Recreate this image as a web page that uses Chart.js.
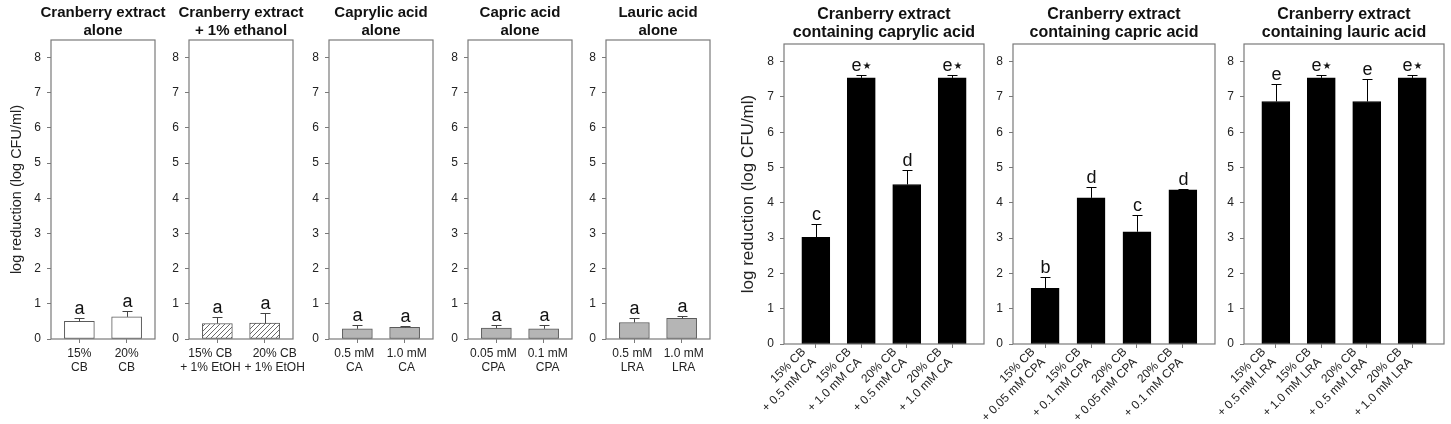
<!DOCTYPE html>
<html>
<head>
<meta charset="utf-8">
<script src="https://cdn.jsdelivr.net/npm/chart.js@4.4.0/dist/chart.umd.min.js"></script>
<style>
  body { margin: 0; background: #fff; width: 1451px; height: 424px; position: relative; overflow: hidden; }
  .panel { position: absolute; top: 0; }
</style>
</head>
<body>
<script>
// ---- data ----
var yTicks = [0, 1, 2, 3, 4, 5, 6, 7, 8];
var yTitle = "log reduction (log CFU/ml)";

var leftTitles = [["Cranberry extract", "alone"], ["Cranberry extract", "+ 1% ethanol"],
                  ["Caprylic acid", "alone"], ["Capric acid", "alone"], ["Lauric acid", "alone"]];
var leftLabels = [
  [["15%", "CB"], ["20%", "CB"]],
  [["15% CB", "+ 1% EtOH"], ["20% CB", "+ 1% EtOH"]],
  [["0.5 mM", "CA"], ["1.0 mM", "CA"]],
  [["0.05 mM", "CPA"], ["0.1 mM", "CPA"]],
  [["0.5 mM", "LRA"], ["1.0 mM", "LRA"]]
];
var leftValues = [[0.50, 0.63], [0.44, 0.45], [0.29, 0.33], [0.31, 0.29], [0.47, 0.59]];
var leftErrors = [[0.11, 0.16], [0.19, 0.30], [0.10, 0.03], [0.10, 0.11], [0.12, 0.05]];
var leftLetters = [["a", "a"], ["a", "a"], ["a", "a"], ["a", "a"], ["a", "a"]];

var rightTitles = [["Cranberry extract", "containing caprylic acid"],
                   ["Cranberry extract", "containing capric acid"],
                   ["Cranberry extract", "containing lauric acid"]];
var rightLabels = [
  [["15% CB", "+ 0.5 mM CA"], ["15% CB", "+ 1.0 mM CA"], ["20% CB", "+ 0.5 mM CA"], ["20% CB", "+ 1.0 mM CA"]],
  [["15% CB", "+ 0.05 mM CPA"], ["15% CB", "+ 0.1 mM CPA"], ["20% CB", "+ 0.05 mM CPA"], ["20% CB", "+ 0.1 mM CPA"]],
  [["15% CB", "+ 0.5 mM LRA"], ["15% CB", "+ 1.0 mM LRA"], ["20% CB", "+ 0.5 mM LRA"], ["20% CB", "+ 1.0 mM LRA"]]
];
var rightValues = [[3.02, 7.54, 4.52, 7.54], [1.58, 4.14, 3.18, 4.37], [6.87, 7.54, 6.87, 7.54]];
var rightErrors = [[0.38, 0.08, 0.42, 0.08], [0.32, 0.32, 0.47, 0.03], [0.50, 0.08, 0.65, 0.08]];
var rightLetters = [["c", "e★", "d", "e★"], ["b", "d", "c", "d"], ["e", "e★", "e", "e★"]];

// ---- look ----
var fam = "'Liberation Sans', Arial, Helvetica, sans-serif";

function hatch() {
  var c = document.createElement("canvas");
  c.width = 5; c.height = 5;
  var g = c.getContext("2d");
  g.fillStyle = "#fff"; g.fillRect(0, 0, 5, 5);
  g.strokeStyle = "#6a6a6a"; g.lineWidth = 1;
  g.beginPath();
  g.moveTo(0, 5); g.lineTo(5, 0);
  g.moveTo(-1, 1); g.lineTo(1, -1);
  g.moveTo(4, 6); g.lineTo(6, 4);
  g.stroke();
  return g.createPattern(c, "repeat");
}

var boxPlugin = {
  id: "box",
  beforeDraw: function(chart, args, opts) {
    // nudge x tick labels where the original places them off the tick
    var shift = opts.shift || [];
    chart.scales.x.getLabelItems().forEach(function(it, i) {
      it.options.translation[0] += shift[i] || 0;
      it.options.translation[1] += opts.lift || 0;
    });
  },
  beforeDatasetsDraw: function(chart) {
    var a = chart.chartArea, ctx = chart.ctx;
    ctx.save();
    ctx.strokeStyle = "#7a7a7a";
    ctx.lineWidth = 1.2;
    ctx.strokeRect(a.left, a.top, a.right - a.left, a.bottom - a.top);
    ctx.restore();
  }
};

var errorPlugin = {
  id: "errorBars",
  afterDatasetsDraw: function(chart, args, opts) {
    var ctx = chart.ctx, xs = chart.scales.x, ys = chart.scales.y;
    var pts = chart.data.datasets[0].data;
    ctx.save();
    pts.forEach(function(p, i) {
      var x = Math.round(xs.getPixelForValue(p.x)) + 0.5;
      var y0 = ys.getPixelForValue(p.y);
      var y1 = Math.round(ys.getPixelForValue(p.y + opts.errors[i])) + 0.5;
      ctx.strokeStyle = opts.color;
      ctx.lineWidth = 1;
      ctx.beginPath();
      ctx.moveTo(x, y0); ctx.lineTo(x, y1);
      ctx.moveTo(x - 5, y1); ctx.lineTo(x + 5, y1);
      ctx.stroke();
      // significance letter, with an optional small star after it
      var txt = opts.letters[i], letter = txt.charAt(0), extra = txt.slice(1);
      var big = "18px " + fam, small = "10px 'DejaVu Sans', sans-serif";
      ctx.fillStyle = "#111";
      ctx.textBaseline = "alphabetic";
      ctx.textAlign = "left";
      ctx.font = big;
      var w1 = ctx.measureText(letter).width;
      ctx.font = small;
      var w2 = extra ? ctx.measureText(extra).width + 1 : 0;
      var sx = x - (w1 + w2) / 2;
      ctx.font = big;
      ctx.fillText(letter, sx, y1 - 5);
      if (extra) {
        ctx.font = small;
        ctx.fillText(extra, sx + w1 + 1, y1 - 7);
      }
    });
    ctx.restore();
  }
};

function makePanel(cfg) {
  var canvas = document.createElement("canvas");
  canvas.className = "panel";
  canvas.width = cfg.axisW * 2 + cfg.boxW;
  canvas.height = 424;
  canvas.style.left = (cfg.boxL - cfg.axisW) + "px";
  document.body.appendChild(canvas);

  var points = cfg.values.map(function(v, i) { return { x: i + 1, y: v }; });
  var grid = { display: true, drawOnChartArea: false, drawTicks: true, tickLength: 4, color: "#7a7a7a", offset: false };

  new Chart(canvas, {
    type: "bar",
    data: {
      datasets: [{
        data: points,
        backgroundColor: cfg.fill,
        borderColor: cfg.edge,
        borderWidth: 1,
        borderSkipped: false,
        barThickness: cfg.barW
      }]
    },
    options: {
      responsive: false,
      animation: false,
      devicePixelRatio: 1,
      layout: { padding: 0 },
      plugins: {
        legend: { display: false },
        tooltip: { enabled: false },
        title: {
          display: true, text: cfg.title, color: "#111",
          font: { family: fam, size: cfg.titleSize, weight: "bold", lineHeight: 18 / cfg.titleSize },
          padding: cfg.titlePad
        },
        box: { shift: cfg.shift, lift: cfg.lift },
        errorBars: { errors: cfg.errors, letters: cfg.letters, color: cfg.errColor }
      },
      scales: {
        x: {
          type: "linear", min: cfg.xMin, max: cfg.xMax, offset: false,
          afterBuildTicks: function(s) { s.ticks = cfg.labels.map(function(l, i) { return { value: i + 1 }; }); },
          afterFit: function(s) { s.height = cfg.xAxisH; },
          grid: grid,
          border: { display: false },
          ticks: {
            autoSkip: false, minRotation: cfg.rot, maxRotation: cfg.rot, padding: cfg.xTickPad,
            color: "#222", font: { family: fam, size: cfg.xTickSize, lineHeight: 1.2 },
            callback: function(v) { return cfg.labels[Math.round(v) - 1] || ""; }
          }
        },
        y: {
          type: "linear", min: 0, max: 8.5,
          afterBuildTicks: function(s) { s.ticks = yTicks.map(function(v) { return { value: v }; }); },
          afterFit: function(s) { s.width = cfg.axisW; },
          grid: grid,
          border: { display: false },
          ticks: { padding: 6, color: "#222", font: { family: fam, size: 12 } },
          title: {
            display: !!cfg.yTitle, text: cfg.yTitle || "", color: "#222",
            font: { family: fam, size: cfg.yTitleSize, lineHeight: 1.2 },
            padding: { top: cfg.yTitlePad, bottom: 0 }
          }
        },
        // empty mirror axis so the panel title centres over the plot box
        yr: {
          type: "linear", position: "right", min: 0, max: 8.5,
          afterFit: function(s) { s.width = cfg.axisW; },
          grid: { display: false }, border: { display: false }, ticks: { display: false }
        }
      }
    },
    plugins: [boxPlugin, errorPlugin]
  });
}

var leftBoxL = [51, 189, 329, 468, 606];
var leftFill = ["#ffffff", hatch(), "#b5b5b5", "#b5b5b5", "#b5b5b5"];
var leftShift = [[0, 0], [-7, 10], [-3, 2], [-3, 4], [-2, 2]];
leftBoxL.forEach(function(bl, k) {
  makePanel({
    boxL: bl, boxW: 104, axisW: k === 0 ? 51 : 40,
    xMin: 0.4, xMax: 2.6, barW: 30, rot: 0, xAxisH: 85, xTickSize: 12, xTickPad: 3,
    shift: leftShift[k], lift: 0,
    titleSize: 15, titlePad: { top: 4, bottom: 0 },
    title: leftTitles[k], labels: leftLabels[k], values: leftValues[k],
    errors: leftErrors[k], letters: leftLetters[k],
    fill: leftFill[k], edge: "#5a5a5a", errColor: "#444",
    yTitle: k === 0 ? yTitle : null, yTitleSize: 14.5, yTitlePad: 8
  });
});

var rightBoxL = [784, 1013, 1244];
var rightBoxW = [200, 202, 200];
rightBoxL.forEach(function(bl, k) {
  makePanel({
    boxL: bl, boxW: rightBoxW[k], axisW: k === 0 ? 60 : 50,
    xMin: 0.3, xMax: 4.7, barW: 28, rot: 45, xAxisH: 80, xTickSize: 12, xTickPad: 0,
    shift: [-12, -12, -12, -12], lift: -3,
    titleSize: 16, titlePad: { top: 6, bottom: 2 },
    title: rightTitles[k], labels: rightLabels[k], values: rightValues[k],
    errors: rightErrors[k], letters: rightLetters[k],
    fill: "#000000", edge: "#000000", errColor: "#000",
    yTitle: k === 0 ? yTitle : null, yTitleSize: 17, yTitlePad: 14
  });
});
</script>
</body>
</html>
